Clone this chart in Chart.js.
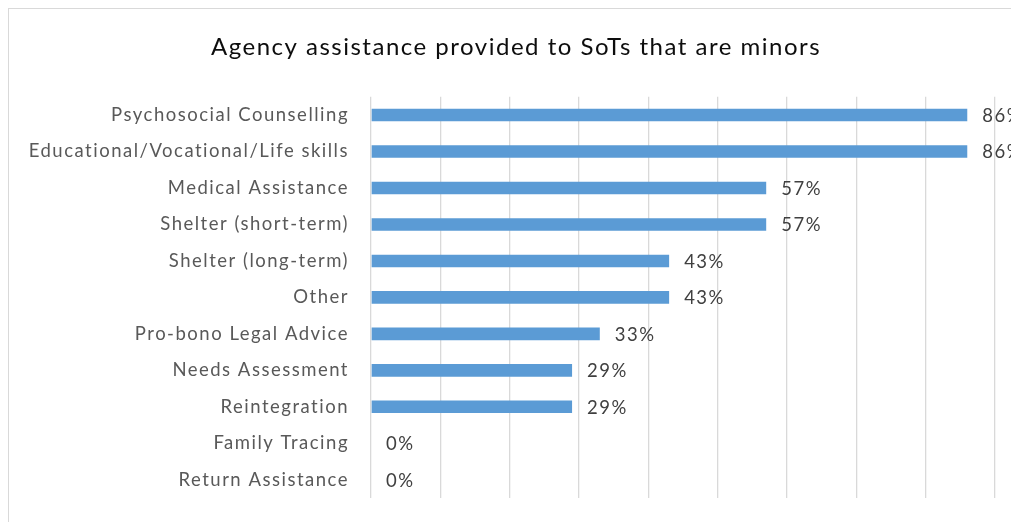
<!DOCTYPE html>
<html>
<head>
<meta charset="utf-8">
<script src="https://cdn.jsdelivr.net/npm/chart.js@4/dist/chart.umd.min.js"></script>
<style>
  html, body { margin: 0; padding: 0; background: #fff; overflow: hidden; }
  body { width: 1011px; height: 522px; position: relative; }
  #frame {
    position: absolute; left: 8px; top: 8px;
    width: 1014px; height: 530px;
    border: 1px solid #d9d9d9; background: #fff;
  }
  #chart { display: block; }
</style>
</head>
<body>
<div id="frame"><canvas id="chart" width="1014" height="530"></canvas></div>
<script>
// Services offered to survivors of trafficking (SoTs) who are minors, share of agencies
const categories = [
  'Psychosocial Counselling',
  'Educational/Vocational/Life skills',
  'Medical Assistance',
  'Shelter (short-term)',
  'Shelter (long-term)',
  'Other',
  'Pro-bono Legal Advice',
  'Needs Assessment',
  'Reintegration',
  'Family Tracing',
  'Return Assistance'
];
const shares = [86, 86, 57, 57, 43, 43, 33, 29, 29, 0, 0];
const axisMin = 0;
const axisMax = 90;
const axisStep = 10;

const FONT = 'Lato, "Open Sans", "DejaVu Sans", sans-serif';

// Slightly open letter spacing for all canvas text
const textSpacing = {
  id: 'textSpacing',
  beforeDraw(chart) {
    chart.ctx.letterSpacing = '1.5px';
  }
};

// Centre the title across the whole canvas rather than the padded area
const fullWidthTitle = {
  id: 'fullWidthTitle',
  afterLayout(chart) {
    const t = chart.titleBlock;
    if (t) {
      t.left = 0;
      t.right = chart.width;
      t.width = chart.width;
    }
  }
};

// Writes each bar's percentage just past its end
const valueLabels = {
  id: 'valueLabels',
  afterDatasetsDraw(chart) {
    const { ctx } = chart;
    const meta = chart.getDatasetMeta(0);
    ctx.save();
    ctx.font = '18.5px ' + FONT;
    ctx.fillStyle = '#404040';
    ctx.textAlign = 'left';
    ctx.textBaseline = 'middle';
    meta.data.forEach((bar, i) => {
      ctx.fillText(shares[i] + '%', bar.x + 15, bar.y + 1);
    });
    ctx.restore();
  }
};

new Chart(document.getElementById('chart'), {
  type: 'bar',
  data: {
    labels: categories,
    datasets: [{
      data: shares,
      backgroundColor: '#5b9bd5',
      borderWidth: 0,
      barPercentage: 0.345,
      categoryPercentage: 1
    }]
  },
  options: {
    indexAxis: 'y',
    responsive: false,
    animation: false,
    layout: { padding: { left: 0, right: 28, top: 0, bottom: 41 } },
    plugins: {
      legend: { display: false },
      tooltip: { enabled: false },
      title: {
        display: true,
        text: 'Agency assistance provided to SoTs that are minors',
        color: '#0d0d0d',
        font: { family: FONT, size: 24, weight: 'normal', lineHeight: 1.2 },
        padding: { top: 24, bottom: 35 }
      }
    },
    scales: {
      x: {
        min: axisMin,
        max: axisMax,
        ticks: { display: false, stepSize: axisStep },
        grid: { color: '#d9d9d9', lineWidth: 1.3, drawTicks: false },
        border: { display: false },
        afterFit(scale) { scale.height = 0; }
      },
      y: {
        grid: { display: false, drawTicks: false },
        border: { display: false },
        ticks: {
          color: '#595959',
          padding: 22,
          font: { family: FONT, size: 18.5 }
        },
        afterFit(scale) { scale.width = 362; }
      }
    }
  },
  plugins: [textSpacing, fullWidthTitle, valueLabels]
});
</script>
</body>
</html>
